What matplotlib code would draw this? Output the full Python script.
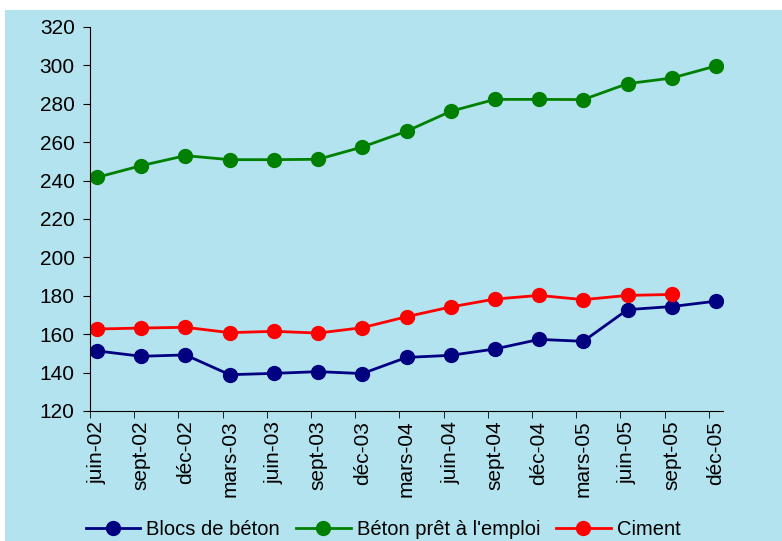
import matplotlib
matplotlib.use("Agg")
import matplotlib.pyplot as plt
from matplotlib.patches import Rectangle
import numpy as np

plt.rcParams['font.family'] = ['Liberation Sans', 'DejaVu Sans']

# trimestres
labels = ["juin-02", "sept-02", "déc-02", "mars-03", "juin-03", "sept-03", "déc-03",
          "mars-04", "juin-04", "sept-04", "déc-04", "mars-05", "juin-05", "sept-05", "déc-05"]

blocs = [151.3, 148.5, 149.2, 138.9, 139.6, 140.5, 139.5,
         147.9, 149.0, 152.3, 157.3, 156.3, 172.8, 174.4, 177.2]
beton = [241.7, 247.8, 253.0, 250.9, 250.9, 251.1, 257.5,
         265.7, 276.1, 282.3, 282.3, 282.2, 290.5, 293.4, 299.7]
ciment = [162.7, 163.2, 163.6, 160.8, 161.5, 160.6, 163.4,
          169.1, 174.2, 178.3, 180.2, 178.0, 180.2, 180.7]

bg = '#b3e3ee'

fig = plt.figure(figsize=(7.82, 5.41), dpi=100)
fig.patch.set_facecolor('white')
fig.add_artist(Rectangle((5 / 782, 0), 1, 531 / 541, transform=fig.transFigure,
                         facecolor=bg, edgecolor='none', zorder=-5))

ax = fig.add_axes([90 / 782, 1 - 411 / 541, 633 / 782, 384 / 541])
ax.set_facecolor(bg)

# points au milieu du mois, graduations au début
off = 0.16
x = np.arange(len(labels)) + off

ax.plot(x, blocs, color='#000080', lw=2, marker='o', ms=10, label='Blocs de béton')
ax.plot(x, beton, color='#008000', lw=2, marker='o', ms=10, label="Béton prêt à l'emploi")
ax.plot(x[:len(ciment)], ciment, color='#ff0000', lw=2, marker='o', ms=10, label='Ciment')

ax.set_ylim(120, 320)
ax.set_yticks(np.arange(120, 321, 20))
ax.set_xlim(0, 14.32)
ax.set_xticks(x)
ax.set_xticklabels(labels, rotation=90)
ax.set_xticks(np.arange(len(labels)), minor=True)
ax.tick_params(axis='x', which='major', length=0, pad=7, labelsize=15)
ax.tick_params(axis='x', which='minor', length=5, direction='out')
ax.tick_params(axis='y', length=5, direction='out', labelsize=15, pad=6)

for s in ['top', 'right']:
    ax.spines[s].set_visible(False)
ax.spines['left'].set_color('black')
ax.spines['bottom'].set_color('black')

fig.legend(loc='lower center', bbox_to_anchor=(0.49, -0.03), ncol=3, frameon=False,
           fontsize=14.5, handlelength=2.7, columnspacing=0.8, handletextpad=0.3)

fig.savefig('out.png', dpi=100, facecolor='white')
